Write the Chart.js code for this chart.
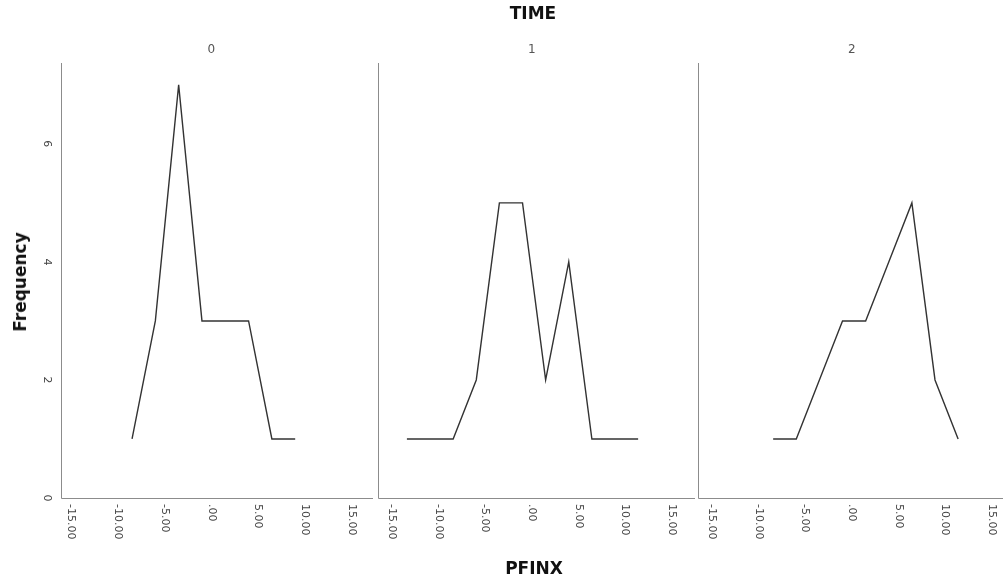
<!DOCTYPE html>
<html><head><meta charset="utf-8">
<script src="https://cdn.jsdelivr.net/npm/chart.js@4"></script>
<style>
html,body{margin:0;padding:0;width:1003px;height:581px;overflow:hidden;background:#fff;position:relative}
canvas{position:absolute;top:0;left:0}
.t{position:absolute;font-family:"DejaVu Sans",sans-serif;font-weight:bold;font-size:17px;color:#111;white-space:nowrap}
</style></head><body>
<canvas id="c0" width="1020" height="581"></canvas>
<canvas id="c1" width="1020" height="581"></canvas>
<canvas id="c2" width="1020" height="581"></canvas>
<div class="t" style="left:533px;top:13px;transform:translate(-50%,-50%)">TIME</div>
<div class="t" style="left:534px;top:568px;transform:translate(-50%,-50%)">PFINX</div>
<div class="t" style="left:20px;top:282px;transform:translate(-50%,-50%) rotate(-90deg)">Frequency</div>
<script>
// Data
const binCenters = [-13.4, -10.92, -8.44, -5.96, -3.48, -1.0, 1.48, 3.96, 6.44, 8.92, 11.4];
const panelNames = ['0', '1', '2'];
const freqTime0 = [null, null, 1, 3, 7, 3, 3, 3, 1, 1, null];
const freqTime1 = [1, 1, 1, 2, 5, 5, 2, 4, 1, 1, 1];
const freqTime2 = [null, null, 1, 1, 2, 3, 3, 4, 5, 2, 1];
const xTickValues = [-15, -10, -5, 0, 5, 10, 15];
const xTickLabels = ['-15.00', '-10.00', '-5.00', '.00', '5.00', '10.00', '15.00'];
const yTickValues = [0, 2, 4, 6];
const yTickLabels = ['0', '2', '4', '6'];

const series = [freqTime0, freqTime1, freqTime2];
const panels = [
  {l:61, r:373, min:-16.0, max:17.2},
  {l:378, r:695, min:-16.5, max:17.5},
  {l:698, r:1015, min:-16.5, max:17.5}
];
const TOP = 63, BOTTOM = 498, CW = 1020, CH = 581;

function facetPlugin(idx){
  return {
    id: 'facet' + idx,
    afterDraw(chart){
      const ctx = chart.ctx, a = chart.chartArea;
      const xs = chart.scales.x, ys = chart.scales.y;
      ctx.save();
      ctx.strokeStyle = '#8c8c8c'; ctx.lineWidth = 1;
      ctx.beginPath();
      const lx = Math.round(a.left) + 0.5, by = Math.round(a.bottom) + 0.5;
      ctx.moveTo(lx, a.top); ctx.lineTo(lx, by); ctx.lineTo(a.right, by);
      ctx.stroke();
      ctx.fillStyle = '#444';
      ctx.font = '11px "DejaVu Sans", sans-serif';
      xTickValues.forEach((v, i) => {
        const px = xs.getPixelForValue(v);
        ctx.save();
        ctx.translate(px, a.bottom + 6);
        ctx.rotate(Math.PI / 2);
        ctx.textAlign = 'left'; ctx.textBaseline = 'middle';
        ctx.fillText(xTickLabels[i], 0, 0);
        ctx.restore();
      });
      if (idx === 0) {
        yTickValues.forEach((v, i) => {
          const py = ys.getPixelForValue(v);
          ctx.save();
          ctx.translate(a.left - 14, py);
          ctx.rotate(Math.PI / 2);
          ctx.textAlign = 'center'; ctx.textBaseline = 'middle';
          ctx.fillText(yTickLabels[i], 0, 0);
          ctx.restore();
        });
      }
      ctx.font = '12px "DejaVu Sans", sans-serif';
      ctx.fillStyle = '#555';
      ctx.textAlign = 'center'; ctx.textBaseline = 'middle';
      ctx.fillText(panelNames[idx], xs.getPixelForValue(0), 50);
      ctx.restore();
    }
  };
}

series.forEach((vals, idx) => {
  const pts = [];
  vals.forEach((v, i) => { if (v !== null) pts.push({x: binCenters[i], y: v}); });
  const p = panels[idx];
  new Chart(document.getElementById('c' + idx), {
    type: 'line',
    data: { datasets: [{ data: pts, borderColor: '#333333', borderWidth: 1.4, pointRadius: 0, tension: 0, fill: false }] },
    options: {
      responsive: false, animation: false, devicePixelRatio: 1,
      layout: { padding: { left: p.l, right: CW - p.r, top: TOP, bottom: CH - BOTTOM } },
      plugins: { legend: { display: false }, tooltip: { enabled: false }, title: { display: false } },
      scales: {
        x: { type: 'linear', display: false, min: p.min, max: p.max },
        y: { type: 'linear', display: false, min: 0, max: 7.37 }
      }
    },
    plugins: [facetPlugin(idx)]
  });
});
</script>
</body></html>
